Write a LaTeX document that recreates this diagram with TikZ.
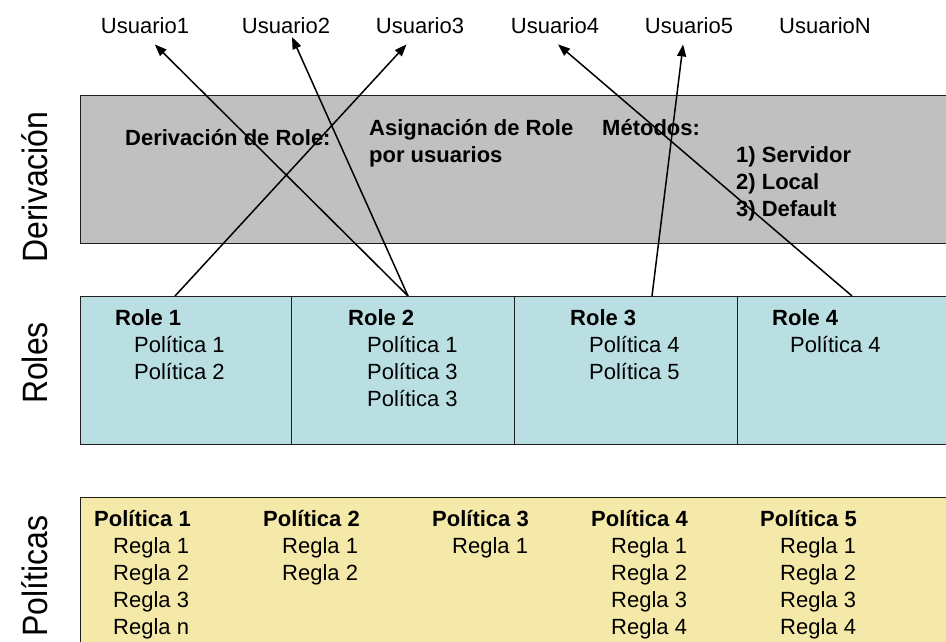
\documentclass[tikz,border=0pt]{standalone}
\usepackage{fontspec}
\setmainfont{Liberation Sans}
\usepackage{xcolor}
\usepackage{tikz}
\usetikzlibrary{arrows.meta, positioning, calc}
\definecolor{derivgray}{RGB}{192,192,192}
\definecolor{rolecyan}{RGB}{185,223,227}
\definecolor{polyellow}{RGB}{244,233,169}
\definecolor{edgedark}{RGB}{30,30,30}

\begin{document}
\begin{tikzpicture}[x=1pt, y=-1pt, >={Triangle[length=12pt, width=9pt]}]
  \tikzstyle{layerbox} = [rectangle, draw=edgedark, line width=1.2pt, anchor=north west, inner sep=0pt]
  \tikzstyle{usrlabel} = [font=\fontsize{22}{26}\selectfont, anchor=base, inner xsep=3pt, inner ysep=11pt]
  \tikzstyle{plain} = [font=\fontsize{22}{27}\selectfont, anchor=base west, inner sep=0pt]
  \tikzstyle{heading} = [font=\fontsize{22}{27}\selectfont\bfseries, anchor=base west, inner sep=0pt]
  \tikzstyle{sidelabel} = [font=\fontsize{32}{36}\selectfont, rotate=90, anchor=base, inner sep=0pt]
  \tikzstyle{link} = [->, line width=1.5pt, black]

  \useasboundingbox (0,0) rectangle (946,641);

  % layers
  \node [layerbox, fill=derivgray, minimum width=880, minimum height=148] (deriv) at (80,95) {};
  \node [layerbox, fill=rolecyan, minimum width=211, minimum height=148] (role1) at (80,296) {};
  \node [layerbox, fill=rolecyan, minimum width=223, minimum height=148] (role2) at (291,296) {};
  \node [layerbox, fill=rolecyan, minimum width=223, minimum height=148] (role3) at (514,296) {};
  \node [layerbox, fill=rolecyan, minimum width=223, minimum height=148] (role4) at (737,296) {};
  \node [layerbox, fill=polyellow, minimum width=880, minimum height=170] (pol) at (80,497) {};

  \node [sidelabel] (lblderiv) at (47,187) {\scalebox{1}[1.1]{Derivación}};
  \node [sidelabel] (lblroles) at (47,363) {\scalebox{1}[1.1]{Roles}};
  \node [sidelabel] (lblpol) at (47,576) {\scalebox{1}[1.1]{Políticas}};

  % derivation layer
  \node [heading] (derivtitle) at (125,145) {Derivación de Role:};
  \node [heading] (asig1) at (369,135) {Asignación de Role};
  \node [heading] (asig2) at (369,162) {por usuarios};
  \node [heading] (metodos) at (602,135) {Métodos:};
  \node [heading] (met1) at (736,162) {1) Servidor};
  \node [heading] (met2) at (736,189) {2) Local};
  \node [heading] (met3) at (736,216) {3) Default};

  % roles layer
  \node [heading] (r1title) at (115,325) {Role 1};
  \node [plain] (r1p1) at (134,352) {Política 1};
  \node [plain] (r1p2) at (134,379) {Política 2};
  \node [heading] (r2title) at (348,325) {Role 2};
  \node [plain] (r2p1) at (367,352) {Política 1};
  \node [plain] (r2p2) at (367,379) {Política 3};
  \node [plain] (r2p3) at (367,406) {Política 3};
  \node [heading] (r3title) at (570,325) {Role 3};
  \node [plain] (r3p1) at (589,352) {Política 4};
  \node [plain] (r3p2) at (589,379) {Política 5};
  \node [heading] (r4title) at (772,325) {Role 4};
  \node [plain] (r4p1) at (790,352) {Política 4};

  % policies layer
  \node [heading] (p1title) at (94,526) {Política 1};
  \node [plain] (p1r1) at (113,553) {Regla 1};
  \node [plain] (p1r2) at (113,580) {Regla 2};
  \node [plain] (p1r3) at (113,607) {Regla 3};
  \node [plain] (p1rn) at (113,634) {Regla n};
  \node [heading] (p2title) at (263,526) {Política 2};
  \node [plain] (p2r1) at (282,553) {Regla 1};
  \node [plain] (p2r2) at (282,580) {Regla 2};
  \node [heading] (p3title) at (432,526) {Política 3};
  \node [plain] (p3r1) at (452,553) {Regla 1};
  \node [heading] (p4title) at (591,526) {Política 4};
  \node [plain] (p4r1) at (611,553) {Regla 1};
  \node [plain] (p4r2) at (611,580) {Regla 2};
  \node [plain] (p4r3) at (611,607) {Regla 3};
  \node [plain] (p4r4) at (611,634) {Regla 4};
  \node [heading] (p5title) at (760,526) {Política 5};
  \node [plain] (p5r1) at (780,553) {Regla 1};
  \node [plain] (p5r2) at (780,580) {Regla 2};
  \node [plain] (p5r3) at (780,607) {Regla 3};
  \node [plain] (p5r4) at (780,634) {Regla 4};

  % users
  \node [usrlabel] (u1) at (145,33) {Usuario1};
  \node [usrlabel] (u2) at (286,33) {Usuario2};
  \node [usrlabel] (u3) at (420,33) {Usuario3};
  \node [usrlabel] (u4) at (555,33) {Usuario4};
  \node [usrlabel] (u5) at (689,33) {Usuario5};
  \node [usrlabel] (uN) at (825,33) {UsuarioN};

  \coordinate (r1top) at (175,296);
  \coordinate (r2top) at (408,296);
  \coordinate (r3top) at (652,296);
  \coordinate (r4top) at (852,296);
  \coordinate (u2tip) at ($(u2.base)+(6,4)$);

  \draw [link] (r1top) -- (u3.-125);
  \draw [link] (r2top) -- (u1.-63);
  \draw [link] (r2top) -- (u2tip);
  \draw [link] (r3top) -- (u5.-107);
  \draw [link] (r4top) -- (u4.-81);
\end{tikzpicture}
\end{document}
